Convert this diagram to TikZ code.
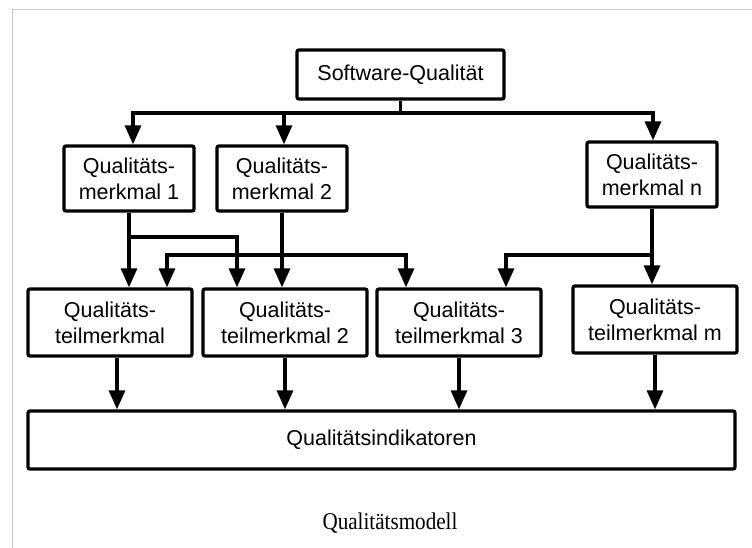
\documentclass[tikz,border=0pt]{standalone}
\usepackage{fontspec}
\setmainfont{Liberation Sans}
\newfontfamily\capfont{Liberation Serif}
\usetikzlibrary{arrows.meta}

\tikzset{
  box/.style={draw,line width=3.3pt,rounded corners=2pt,align=center,inner sep=0pt,
    font=\fontsize{21.5}{26}\selectfont},
  link/.style={line width=3.3pt,-{Triangle[width=16pt,length=19pt]}},
  wire/.style={line width=3.3pt}
}

\begin{document}
\begin{tikzpicture}[x=1pt,y=-1pt]
\useasboundingbox (0,0) rectangle (752,548);
\draw[black!22,line width=1pt] (752,10) -- (12,10) -- (12,548);

\node[box,minimum width=207pt,minimum height=49pt] (sq) at (400.5,74.5) {Software-Qualität};

\node[box,minimum width=130pt,minimum height=65pt] (m1) at (129,178.5) {Qualitäts-\\merkmal 1};
\node[box,minimum width=130pt,minimum height=65pt] (m2) at (282,178.5) {Qualitäts-\\merkmal 2};
\node[box,minimum width=130pt,minimum height=65pt] (mn) at (652,174.5) {Qualitäts-\\merkmal n};

\node[box,minimum width=164pt,minimum height=67pt] (t1) at (110,322.5) {Qualitäts-\\teilmerkmal};
\node[box,minimum width=164pt,minimum height=67pt] (t2) at (285,322.5) {Qualitäts-\\teilmerkmal 2};
\node[box,minimum width=164pt,minimum height=67pt] (t3) at (459,322.5) {Qualitäts-\\teilmerkmal 3};
\node[box,minimum width=164pt,minimum height=67pt] (tm) at (655,319.5) {Qualitäts-\\teilmerkmal m};

\node[box,minimum width=707pt,minimum height=58pt] (ind) at (381.5,440) {Qualitätsindikatoren};

\node[anchor=base,font=\capfont\fontsize{24}{28}\selectfont] (cap) at (390,529) {\scalebox{0.88}[1]{Qualitätsmodell}};

\coordinate (bus) at (0,113);
\coordinate (rowA) at (0,237);
\coordinate (rowB) at (0,255);

\draw[wire] (sq.south) -- (sq.south |- bus);
\draw[link] (sq.south |- bus) -| ([xshift=4pt]m1.north);
\draw[link] (sq.south |- bus) -| ([xshift=2pt]m2.north);
\draw[link] (sq.south |- bus) -| ([xshift=1pt]mn.north);

\draw[link] (m1.south) -- (m1.south |- t1.north);
\draw[link] (m1.south |- rowA) -| ([xshift=-48pt]t2.north);
\draw[link] (m2.south) -- (m2.south |- t2.north);
\draw[link] (m2.south |- rowB) -| ([xshift=57pt]t1.north);
\draw[link] (m2.south |- rowB) -| ([xshift=-53pt]t3.north);
\draw[link] (mn.south) -- (mn.south |- tm.north);
\draw[link] (mn.south |- rowB) -| ([xshift=47pt]t3.north);

\draw[link] ([xshift=7pt]t1.south) -- ([xshift=7pt]t1.south |- ind.north);
\draw[link] (t2.south) -- (t2.south |- ind.north);
\draw[link] (t3.south) -- (t3.south |- ind.north);
\draw[link] (tm.south) -- (tm.south |- ind.north);

\end{tikzpicture}
\end{document}
